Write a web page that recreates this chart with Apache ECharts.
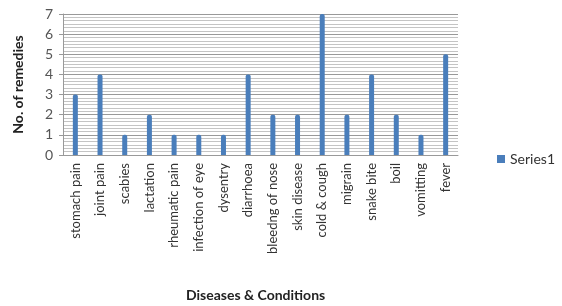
<!DOCTYPE html>
<html>
<head>
<meta charset="utf-8">
<script src="https://cdn.jsdelivr.net/npm/echarts@6/dist/echarts.min.js"></script>
<style>
html,body{margin:0;padding:0;background:#fff;}
#c{width:562px;height:306px;}
</style>
</head>
<body>
<div id="c"></div>
<script>
var categories = ['stomach pain','joint pain','scabies','lactation','rheumatic pain','infection of eye','dysentry','diarrhoea','bleedng of nose','skin disease','cold & cough','migrain','snake bite','boil','vomitting','fever'];
var values = [3,4,1,2,1,1,1,4,2,2,7,2,4,2,1,5];
var yTicks = [0,1,2,3,4,5,6,7];
var seriesName = 'Series1';

var chart = echarts.init(document.getElementById('c'), null, {renderer:'canvas'});
chart.setOption({
  animation:false,
  backgroundColor:'#fff',
  textStyle:{fontFamily:'Lato, sans-serif'},
  title:{
    text:'Diseases & Conditions',
    left:181, top:283,
    textStyle:{fontFamily:'Lato, sans-serif',fontSize:14,fontWeight:'bold',color:'#222'}
  },
  legend:{
    data:[seriesName],
    right:2, top:147,
    orient:'vertical',
    icon:'rect', itemWidth:8, itemHeight:8, itemGap:4,
    textStyle:{fontFamily:'Lato, sans-serif',fontSize:14,color:'#333'}
  },
  grid:{left:63,right:104,top:14,bottom:151,containLabel:false},
  xAxis:{
    type:'category',
    data:categories,
    axisLine:{show:true,lineStyle:{color:'#999'}},
    axisTick:{show:false},
    axisLabel:{rotate:90,interval:0,fontSize:13,color:'#333',margin:8,fontFamily:'Lato, sans-serif'}
  },
  yAxis:{
    type:'value',
    min:yTicks[0], max:yTicks[yTicks.length-1], interval:1,
    name:'No. of remedies',
    nameLocation:'middle', nameGap:38,
    nameTextStyle:{fontFamily:'Lato, sans-serif',fontSize:14,fontWeight:'bold',color:'#222'},
    axisLine:{show:true,lineStyle:{color:'#999'}},
    axisTick:{show:true,length:4,lineStyle:{color:'#999'}},
    axisLabel:{fontSize:14,color:'#555',margin:10,fontFamily:'Lato, sans-serif'},
    splitLine:{show:true,lineStyle:{color:'#999',width:1}},
    minorTick:{show:true,splitNumber:6,length:0},
    minorSplitLine:{show:true,lineStyle:{color:'#c4c4c4',width:1}}
  },
  series:[{
    name:seriesName,
    type:'bar',
    data:values,
    barWidth:5,
    itemStyle:{color:'#4a7ebb',borderRadius:[2,2,0,0]}
  }]
});
</script>
</body>
</html>
